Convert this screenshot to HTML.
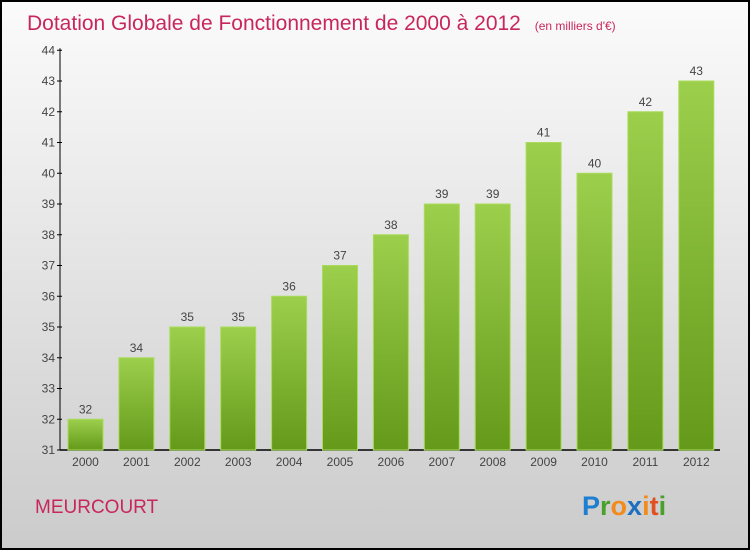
<!DOCTYPE html>
<html><head><meta charset="utf-8"><style>
body{margin:0;width:750px;height:550px;overflow:hidden}
svg{display:block;font-family:"Liberation Sans",sans-serif}
</style></head><body>
<svg width="750" height="550">
<defs>
<linearGradient id="bg" x1="0" y1="0" x2="0" y2="1"><stop offset="0" stop-color="#fbfbfb"/><stop offset="1" stop-color="#cbcbcb"/></linearGradient>
<linearGradient id="bar" x1="0" y1="0" x2="0" y2="1"><stop offset="0" stop-color="#9ccf4c"/><stop offset="1" stop-color="#64991a"/></linearGradient>
</defs>
<rect x="1" y="1" width="748" height="548" fill="url(#bg)" stroke="#000" stroke-width="2"/>
<text x="27" y="30" font-size="21" fill="#c8275c">Dotation Globale de Fonctionnement de 2000 à 2012 <tspan font-size="12" dx="8">(en milliers d'€)</tspan></text>
<g id="axes"></g>
<g id="bars"></g>
<text x="35" y="513" font-size="19" fill="#c8275c">MEURCOURT</text>
<text x="582" y="515" font-size="27" font-weight="bold"><tspan fill="#1e7fd0">P</tspan><tspan fill="#4aa02c">r</tspan><tspan fill="#f28a1c">o</tspan><tspan fill="#1e6fc0">x</tspan><tspan fill="#f28a1c">i</tspan><tspan fill="#e05020">t</tspan><tspan fill="#4aa02c">i</tspan></text>
</svg>
<script>
const years=["2000","2001","2002","2003","2004","2005","2006","2007","2008","2009","2010","2011","2012"];
const values=[32,34,35,35,36,37,38,39,39,41,40,42,43];
const yTicks=[31,32,33,34,35,36,37,38,39,40,41,42,43,44];
const NS="http://www.w3.org/2000/svg";
const yMin=31,yMax=44,y0=450,y1=50.25;
const yS=v=>y0-(v-yMin)*(y0-y1)/(yMax-yMin);
const xS=i=>85.5+i*50.9;
function mk(t,a,p,txt){const e=document.createElementNS(NS,t);for(const k in a)e.setAttribute(k,a[k]);if(txt!=null)e.textContent=txt;p.appendChild(e);return e;}
const ax=document.getElementById('axes'),bg=document.getElementById('bars');
let l=mk('line',{x1:60,y1:y0,x2:60,y2:y1-2,stroke:'#000','stroke-width':1},ax);


l=mk('line',{x1:60,y1:y0,x2:720,y2:y0,stroke:'#000','stroke-width':1.5},ax);


yTicks.forEach(v=>{
 const y=yS(v);
 mk('line',{x1:57,y1:y,x2:62,y2:y,stroke:'#000'},ax);
 const t=mk('text',{x:55,y:y+4,'text-anchor':'end','font-size':12,fill:'#444'},ax,v);
 
 
});
years.forEach((yr,i)=>{
 const cx=xS(i),top=yS(values[i]);
 const r=mk('rect',{x:cx-17.5,y:top,width:35,height:y0-top,fill:'url(#bar)',stroke:'#a8dc5a','stroke-width':1},bg);
 
 
 const v=mk('text',{x:cx,y:top-6,'text-anchor':'middle','font-size':12,fill:'#444'},bg,values[i]);
 
 
 const t=mk('text',{x:cx,y:466,'text-anchor':'middle','font-size':12,fill:'#444'},bg,yr);
 
 
});
</script>
</body></html>
